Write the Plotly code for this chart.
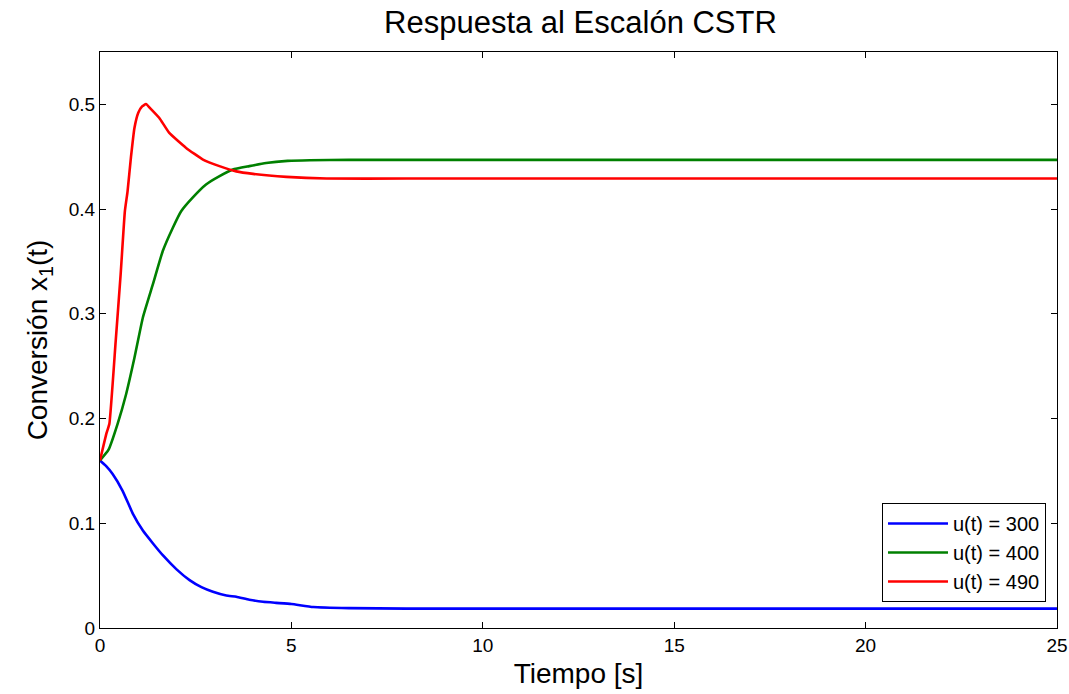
import plotly.graph_objects as go

# Time (s) and conversion values
t_300 = [0, 0.15, 0.33, 0.59, 0.86, 1.12, 1.4, 1.64, 2.0, 2.34, 2.65, 2.95, 3.3, 3.56, 3.9, 4.26, 4.6, 5.0, 5.57, 6.5, 8, 10, 15, 20, 25]
x_300 = [0.160, 0.155, 0.147, 0.131, 0.109, 0.093, 0.080, 0.0695, 0.056, 0.0457, 0.039, 0.0346, 0.031, 0.0298, 0.027, 0.025, 0.024, 0.0229, 0.020, 0.019, 0.0185, 0.0185, 0.0185, 0.0185, 0.0185]

t_400 = [0, 0.22, 0.46, 0.68, 0.9, 1.12, 1.38, 1.64, 1.9, 2.12, 2.42, 2.77, 3.1, 3.47, 3.9, 4.34, 4.9, 5.48, 6.5, 8, 10, 15, 20, 25]
x_400 = [0.160, 0.170, 0.195, 0.223, 0.258, 0.2965, 0.328, 0.360, 0.382, 0.398, 0.411, 0.4235, 0.431, 0.4378, 0.441, 0.444, 0.446, 0.4467, 0.447, 0.447, 0.447, 0.447, 0.447, 0.447]

t_490 = [0, 0.17, 0.245, 0.41, 0.54, 0.65, 0.72, 0.81, 0.9, 1.0, 1.1, 1.2, 1.32, 1.55, 1.81, 2.25, 2.69, 3.12, 3.56, 4.0, 4.87, 5.92, 8, 10, 15, 20, 25]
x_490 = [0.160, 0.186, 0.195, 0.274, 0.338, 0.398, 0.417, 0.450, 0.4775, 0.492, 0.498, 0.5003, 0.496, 0.487, 0.4727, 0.4584, 0.4473, 0.441, 0.436, 0.4336, 0.4308, 0.4292, 0.4292, 0.4292, 0.4292, 0.4292, 0.4292]

series = [
    ("u(t) = 300", t_300, x_300, "#0000ff"),
    ("u(t) = 400", t_400, x_400, "#008000"),
    ("u(t) = 490", t_490, x_490, "#ff0000"),
]

font_family = "Liberation Sans, Arial, sans-serif"

fig = go.Figure()
for name, t, x, c in series:
    fig.add_trace(go.Scatter(x=t, y=x, mode="lines", name=name,
                             line=dict(color=c, width=2.6, shape="spline", smoothing=0.4)))

axis_common = dict(showline=True, linecolor="black", linewidth=1, mirror="ticks",
                   ticks="inside", ticklen=6, tickcolor="black", showgrid=False,
                   zeroline=False, automargin=False,
                   tickfont=dict(family=font_family, size=19, color="black"))

fig.update_layout(
    width=1069, height=694,
    margin=dict(l=100, r=12, t=52, b=66),
    paper_bgcolor="white", plot_bgcolor="white",
    font=dict(family=font_family, color="black"),
    title=dict(text="Respuesta al Escalón CSTR", x=0.543, xanchor="center", y=0.968, yanchor="middle",
               font=dict(size=31, family=font_family, color="black")),
    xaxis=dict(range=[0, 25], tickvals=[0, 5, 10, 15, 20, 25],
               title=dict(text="Tiempo [s]", font=dict(size=28, family=font_family), standoff=8),
               **axis_common),
    yaxis=dict(range=[0, 0.55], tickvals=[0, 0.1, 0.2, 0.3, 0.4, 0.5],
               ticktext=["0", "0.1", "0.2", "0.3", "0.4", "0.5"],
               title=dict(text="Conversión x<sub>1</sub>(t)", font=dict(size=28, family=font_family), standoff=12),
               **axis_common),
    legend=dict(x=0.9885, xanchor="right", y=0.217, yanchor="top",
                bgcolor="white", bordercolor="black", borderwidth=1,
                font=dict(size=20, family=font_family, color="black"),
                itemwidth=60, tracegroupgap=0),
    showlegend=True,
)

fig.write_html("out.html")
